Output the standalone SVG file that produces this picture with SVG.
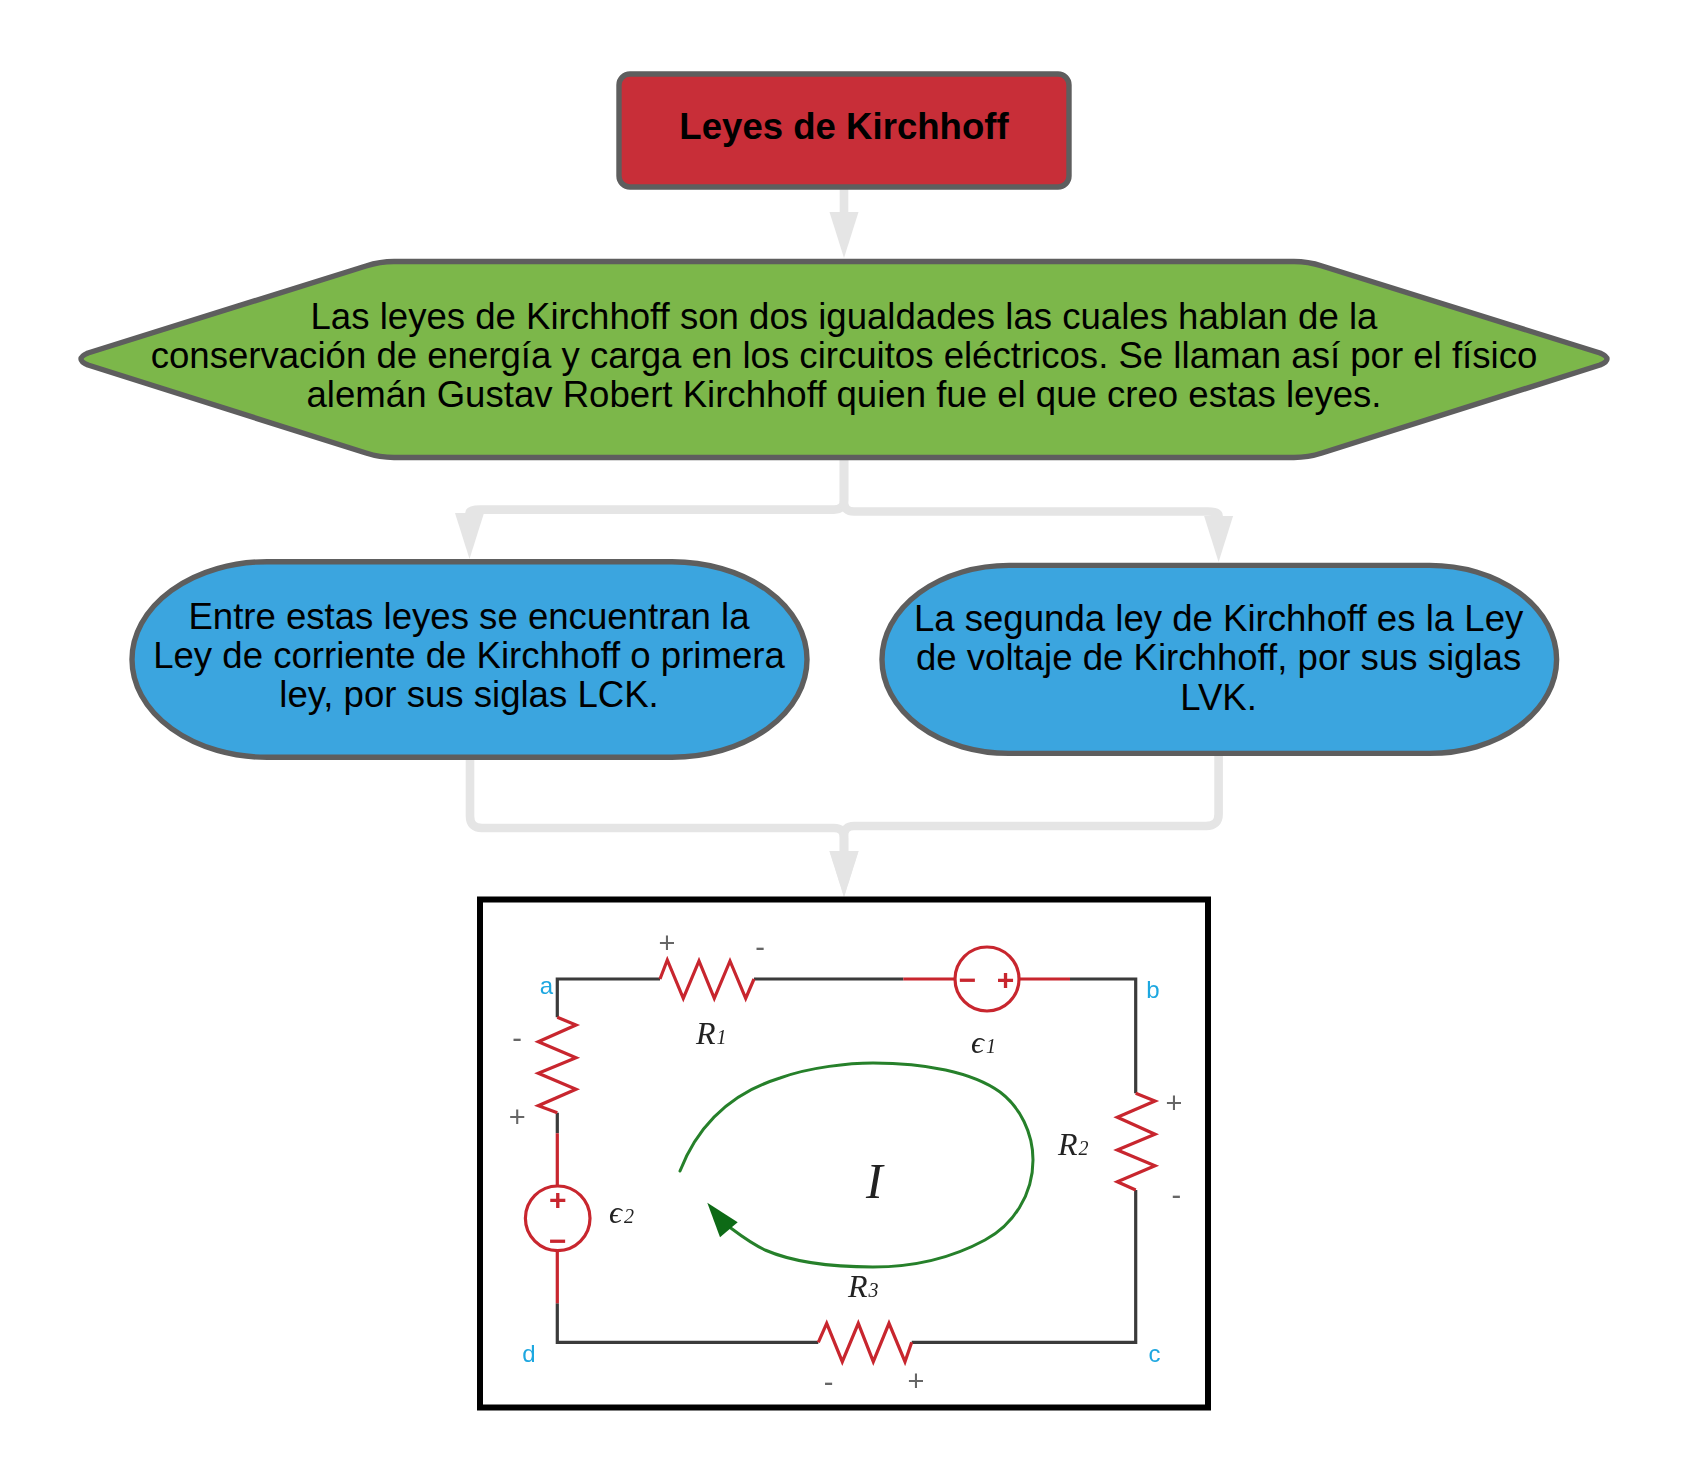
<svg xmlns="http://www.w3.org/2000/svg" width="1688" height="1483" viewBox="0 0 1688 1483">
<style>
.n{stroke:#5e5e5e;stroke-width:5.4;stroke-linejoin:round}
.t{font-family:"Liberation Sans",Arial,sans-serif;font-size:36.6px;fill:#000;text-anchor:middle}
.c{fill:none;stroke:#e5e5e5;stroke-width:8.6;stroke-linejoin:round}
.w{fill:none;stroke:#3a3a3a;stroke-width:3.2;stroke-linejoin:miter}
.r{fill:none;stroke:#c8252e;stroke-width:3.2;stroke-linejoin:miter}
.g{fill:none;stroke:#25802a;stroke-width:3;stroke-linecap:round}
.s{font-family:"Liberation Sans",Arial,sans-serif;font-size:29px;fill:#666;text-anchor:middle}
.p{font-family:"Liberation Sans",Arial,sans-serif;font-size:30px;font-weight:bold;fill:#c8252e;text-anchor:middle}
.l{font-family:"Liberation Sans",Arial,sans-serif;font-size:24px;fill:#1ea7e0;text-anchor:middle}
.h{font-family:"Liberation Serif",serif;font-style:italic;font-size:32px;fill:#222}
.h tspan{font-size:20px}
</style>
<defs>
<marker id="ah" markerUnits="userSpaceOnUse" markerWidth="47" markerHeight="30" viewBox="0 0 47 30" refX="0" refY="15" orient="auto"><path d="M0 0.5L46 15L0 29.5z" fill="#e5e5e5"/></marker>
<filter id="soft" x="0" y="0" width="1" height="1"><feGaussianBlur stdDeviation="0.45"/></filter>
</defs>
<rect width="1688" height="1483" fill="#fff"/>
<g id="connectors">
<path class="c" d="M844 189V212" marker-end="url(#ah)"/>
<path class="c" d="M844 460V500Q844 509.6 834 509.6H480Q469.5 509.6 469.5 513" marker-end="url(#ah)"/>
<path class="c" d="M844 460V502Q844 511.5 854 511.5H1208Q1218.6 511.5 1218.6 516" marker-end="url(#ah)"/>
<path class="c" d="M470 760V816Q470 828 482 828H834Q844 828 844 838V851" marker-end="url(#ah)"/>
<path class="c" d="M1218.6 756V814Q1218.6 826 1206 826H854Q844 826 844 836V851" marker-end="url(#ah)"/>
</g>
<g id="node-title">
<rect class="n" x="619" y="74" width="450" height="113" rx="11" fill="#c82e38"/>
<text class="t" x="844" y="139" font-weight="bold">Leyes de Kirchhoff</text>
</g>
<g id="node-intro">
<path class="n" fill="#7cb74a" d="M88 353L366 266Q380 261.5 394 261.5H1294Q1308 261.5 1322 266L1600 353Q1614 359 1600 365L1322 453Q1308 457.5 1294 457.5H394Q380 457.5 366 453L88 365Q74 359 88 353Z"/>
<text class="t" x="844" y="328.5">Las leyes de Kirchhoff son dos igualdades las cuales hablan de la</text>
<text class="t" x="844" y="367.9">conservación de energía y carga en los circuitos eléctricos. Se llaman así por el físico</text>
<text class="t" x="844" y="407.3">alemán Gustav Robert Kirchhoff quien fue el que creo estas leyes.</text>
</g>
<g id="node-lck">
<rect class="n" x="132" y="561.7" width="675" height="195.6" rx="135" ry="97.8" fill="#3ba5df"/>
<text class="t" x="469" y="629">Entre estas leyes se encuentran la</text>
<text class="t" x="469" y="668">Ley de corriente de Kirchhoff o primera</text>
<text class="t" x="469" y="707.2">ley, por sus siglas LCK.</text>
</g>
<g id="node-lvk">
<rect class="n" x="882" y="565.4" width="674.6" height="188" rx="127" ry="94" fill="#3ba5df"/>
<text class="t" x="1218.6" y="631">La segunda ley de Kirchhoff es la Ley</text>
<text class="t" x="1218.6" y="670.4">de voltaje de Kirchhoff, por sus siglas</text>
<text class="t" x="1218.6" y="709.8">LVK.</text>
</g>
<g id="node-circuit">
<rect x="480" y="899.5" width="728" height="508" fill="#fff" stroke="#000" stroke-width="6"/>
<g filter="url(#soft)">
<path class="w" d="M557.3 1017.3V979H660M754 979H903.3M1070 979H1135.7V1093.3M1135.7 1190V1342.3H911.7M818.3 1342.3H557.3V1303.3M557.3 1133.3V1112.7"/>
<path class="r" d="M660 979L667.3 960L683.3 998.3L699 961L714.3 998.3L730 961L745.7 998.3L754 979"/>
<path class="r" d="M903.3 979H955M1019 979H1070"/>
<circle class="r" cx="987" cy="979" r="32"/>
<path class="r" d="M1135.7 1093.3L1155 1101L1117.3 1117.3L1155 1134.3L1117.3 1150L1155 1165.7L1117.3 1181.7L1135.7 1190"/>
<path class="r" d="M911.7 1342.3L905 1361.7L889 1323.3L873.3 1361.7L858.3 1323.3L842.3 1361.7L826.7 1323.3L818.3 1342.3"/>
<path class="r" d="M557.3 1303.3V1250.6M557.3 1186V1133.3"/>
<circle class="r" cx="557.7" cy="1218.3" r="32.3"/>
<path class="r" d="M557.3 1112.7L538.3 1105.7L576 1089.3L538.3 1073.3L576 1057.7L538.3 1041.7L576 1025L557.3 1017.3"/>
<path class="g" d="M680 1171C700 1120 735 1092 780 1078C810 1067 850 1063 873 1063C925 1063 972 1072 1000 1092C1020 1107 1033 1133 1033 1160C1033 1195 1013 1225 985 1240C950 1259 910 1267 873 1267C835 1267 795 1263 765 1250C750 1243 740 1235 728 1226"/>
<path d="M707.3 1202.7L737.7 1222.3L720 1237.3Z" fill="#0f6a14"/>
<text class="p" x="967.5" y="989.5">−</text>
<text class="p" x="1005.5" y="989.5">+</text>
<text class="p" x="557.7" y="1209.5">+</text>
<text class="p" x="557.7" y="1251">−</text>
<text class="s" x="667" y="952.5">+</text>
<text class="s" x="760" y="956.5">-</text>
<text class="s" x="517" y="1048">-</text>
<text class="s" x="517.3" y="1127">+</text>
<text class="s" x="1174" y="1113">+</text>
<text class="s" x="1176.3" y="1204.5">-</text>
<text class="s" x="828.7" y="1392">-</text>
<text class="s" x="916" y="1390.5">+</text>
<text class="l" x="546.5" y="994">a</text>
<text class="l" x="1153" y="998">b</text>
<text class="l" x="1154.5" y="1361.5">c</text>
<text class="l" x="529" y="1362">d</text>
<text class="h" x="696" y="1044">R<tspan dx="1">1</tspan></text>
<text class="h" x="971" y="1053">ϵ<tspan dx="2">1</tspan></text>
<text class="h" x="1058" y="1155">R<tspan dx="1">2</tspan></text>
<text class="h" x="848" y="1297">R<tspan dx="1">3</tspan></text>
<text class="h" x="609" y="1223">ϵ<tspan dx="2">2</tspan></text>
<text class="h" x="866" y="1198" style="font-size:50px">I</text>
</g>
</g>
</svg>
